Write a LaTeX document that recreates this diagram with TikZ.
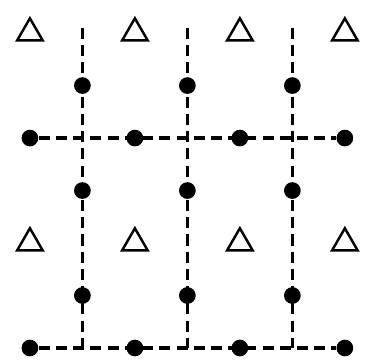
\documentclass[tikz,border=0pt]{standalone}
\usetikzlibrary{shapes.geometric}

\begin{document}
\begin{tikzpicture}[x=0.75cm, y=0.75cm,
    site/.style={circle, fill=black, inner sep=0pt, minimum size=6.8pt},
    vacancy/.style={regular polygon, regular polygon sides=3, draw, line width=1pt, inner sep=0pt, minimum size=12pt},
    bond/.style={line width=1.4pt, dash pattern=on 4.5pt off 2.5pt}]
  \useasboundingbox (-0.57,-0.25) rectangle (6.46,6.63);
  % open triangles
  \foreach \i in {0,...,3} {
    \node[vacancy] (ta\i) at (2*\i,6) {};
    \node[vacancy] (tb\i) at (2*\i,2) {};
  }
  % sites on the two rows
  \foreach \i in {0,...,3} {
    \node[site] (m\i) at (2*\i,4) {};
    \node[site] (b\i) at (2*\i,0) {};
  }
  % sites on the three columns
  \foreach \i in {1,2,3} {
    \node[site] (u\i) at (2*\i-1,5) {};
    \node[site] (c\i) at (2*\i-1,3) {};
    \node[site] (l\i) at (2*\i-1,1) {};
    \coordinate (top\i) at (2*\i-1,6.1);
    \coordinate (bot\i) at (2*\i-1,0);
  }
  % dashed lines
  \foreach \i in {1,2,3}
    \draw[bond] (top\i) -- (bot\i);
  \draw[bond] (m0) -- (m3);
  \draw[bond] (b0) -- (b3);
\end{tikzpicture}
\end{document}
